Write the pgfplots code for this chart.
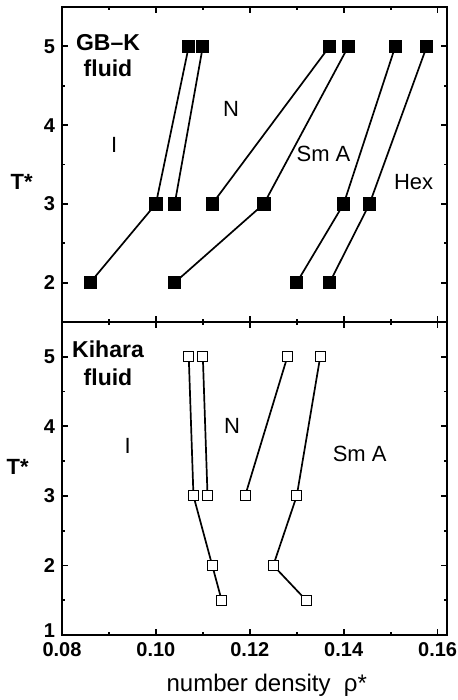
\documentclass[border=0pt]{standalone}
\usepackage{fontspec}
\setmainfont{Liberation Sans}
\usepackage{pgfplots}
\pgfplotsset{compat=1.18}
\tikzset{
  lab/.style={font=\fontsize{11}{13}\selectfont},
  blab/.style={font=\fontsize{11.5}{13}\selectfont\bfseries},
}
\begin{document}
\begin{tikzpicture}
\useasboundingbox (0,0) rectangle (228.5pt,350pt);
\pgfplotsset{
  panel/.style={
    scale only axis, width=192.5pt, anchor=south west,
    xmin=0.08, xmax=0.162,
    xtick={0.08,0.1,0.12,0.14,0.16},
    minor x tick num=1,
    minor ytick={1.5,2.5,3.5,4.5},
    tick align=inside, major tick length=3pt, minor tick length=1.7pt,
    axis line style={line width=1.4pt},
    tick style={line width=0.9pt, black},
    ticklabel style={font=\fontsize{10}{12}\selectfont\bfseries},
    /pgf/number format/assume math mode=true,
    ylabel={T*},
    ylabel style={font=\fontsize{11}{13}\selectfont\bfseries, rotate=-90, anchor=center},
    every axis plot/.append style={black, line width=0.85pt},
  },
  fill sq/.style={mark=square*, mark size=2.9pt, mark options={fill=black, solid}},
  open sq/.style={mark=square*, mark size=2.5pt, mark options={fill=white, solid, line width=0.6pt}},
}
% ---------- top panel ----------
\begin{axis}[panel, at={(31pt,189pt)}, height=157.5pt,
  ymin=1.5, ymax=5.5, ytick={2,3,4,5}, xticklabels={},
  ylabel style={at={(axis description cs:-0.105,0.444)}}]
\addplot[fill sq] coordinates {(0.086,2) (0.100,3) (0.107,5)};
\addplot[fill sq] coordinates {(0.104,3) (0.110,5)};
\addplot[fill sq] coordinates {(0.112,3) (0.137,5)};
\addplot[fill sq] coordinates {(0.104,2) (0.123,3) (0.141,5)};
\addplot[fill sq] coordinates {(0.130,2) (0.140,3) (0.151,5)};
\addplot[fill sq] coordinates {(0.137,2) (0.1455,3) (0.1577,5)};
\node[blab] at (axis cs:0.0898,5.05) {GB--K};
\node[blab] at (axis cs:0.0898,4.72) {fluid};
\node[lab] at (axis cs:0.0911,3.75) {I};
\node[lab] at (axis cs:0.1160,4.20) {N};
\node[lab] at (axis cs:0.1357,3.635) {Sm A};
\node[lab] at (axis cs:0.1549,3.28) {Hex};
\end{axis}
% ---------- bottom panel ----------
\begin{axis}[panel, at={(31pt,32.5pt)}, height=156.5pt,
  ymin=1, ymax=5.5, ytick={2,3,4,5},
  extra y ticks={1}, extra y tick style={yticklabel style={yshift=2pt}},
  xticklabels={0.08,0.10,0.12,0.14,0.16},
  ylabel style={at={(axis description cs:-0.115,0.537)}},
  xlabel={number density\ \ ρ*},
  xlabel style={font=\fontsize{12}{14}\selectfont, at={(axis description cs:0.532,-0.16)}, anchor=center}]
\addplot[open sq] coordinates {(0.114,1.5) (0.112,2) (0.108,3) (0.107,5)};
\addplot[open sq] coordinates {(0.111,3) (0.110,5)};
\addplot[open sq] coordinates {(0.119,3) (0.128,5)};
\addplot[open sq] coordinates {(0.132,1.5) (0.125,2) (0.130,3) (0.135,5)};
\node[blab] at (axis cs:0.0898,5.115) {Kihara};
\node[blab] at (axis cs:0.0898,4.71) {fluid};
\node[lab] at (axis cs:0.0940,3.72) {I};
\node[lab] at (axis cs:0.1162,4.00) {N};
\node[lab] at (axis cs:0.1434,3.60) {Sm A};
\end{axis}
\end{tikzpicture}
\end{document}
